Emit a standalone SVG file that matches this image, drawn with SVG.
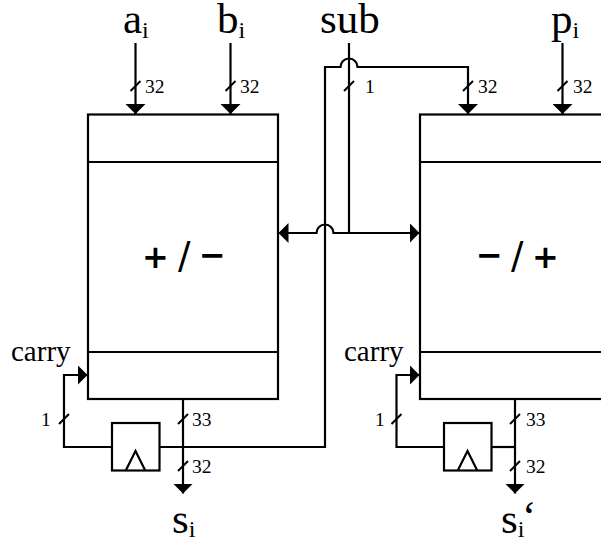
<svg xmlns="http://www.w3.org/2000/svg" width="601" height="542" viewBox="0 0 601 542">
<defs>
<marker id="ah" viewBox="0 0 10 20" markerUnits="userSpaceOnUse" markerWidth="10" markerHeight="20" refX="10" refY="10" orient="auto"><path d="M0 0L10 10L0 20Z" fill="#000"/></marker>
<path id="tick" d="M-5 5L5-5" fill="none" stroke="#000" stroke-width="2"/>
</defs>
<style>
.l{fill:none;stroke:#000;stroke-width:2.2}
.b{fill:#fff;stroke:#000;stroke-width:2.2}
.a{marker-end:url(#ah)}
text{font-family:"Liberation Serif","DejaVu Serif",serif;fill:#000}
.big{font-size:43px}.sub{font-size:24px}.n{font-size:19.500px}.c{font-size:29px}
.op{font-family:"DejaVu Sans",sans-serif;font-size:32px;font-weight:bold}
.sl{font-weight:normal;font-size:37px}
</style>
<g id="adder-left">
<rect class="b" x="88" y="114.500" width="190" height="284.500"/>
<path class="l" d="M88 162H278M88 352H278"/>
<text class="op" y="268"><tspan x="142">+</tspan><tspan class="sl" x="178">/</tspan><tspan x="199" y="265.500">−</tspan></text>
</g>
<g id="adder-right">
<rect class="b" x="420" y="114.500" width="200" height="284.500"/>
<path class="l" d="M420 162H601M420 352H601"/>
<text class="op" y="268"><tspan x="476" y="265.500">−</tspan><tspan class="sl" x="511" y="268">/</tspan><tspan x="532">+</tspan></text>
</g>
<g id="register-left">
<rect class="b" x="112" y="423" width="47.500" height="47.500"/>
<path class="l" d="M126 470L135.500 451L145 470"/>
</g>
<g id="register-right">
<rect class="b" x="444" y="423" width="47.500" height="47.500"/>
<path class="l" d="M458 470L467.500 451L477 470"/>
</g>
<g id="connectors">
<path class="l a" d="M135.500 43V114"/>
<path class="l a" d="M230.500 43V114"/>
<path class="l a" d="M562.500 43V114"/>
<path class="l" d="M349 43V233"/>
<path class="l a" d="M159.500 447H325V67H340.500A8.500 8.500 0 0 1 357.500 67H468V114"/>
<path class="l a" d="M349 233H333.500A8.500 8.500 0 0 0 316.500 233H278.500"/>
<path class="l a" d="M349 233H419.500"/>
<path class="l a" d="M112 447H64V375H87.500"/>
<path class="l a" d="M444 447H396.500V375H419.500"/>
<path class="l a" d="M183 399V493.500"/>
<path class="l a" d="M515 399V493.500"/>
<path class="l" d="M491.500 447H515"/>
<use href="#tick" x="135.500" y="86"/>
<use href="#tick" x="230.500" y="86"/>
<use href="#tick" x="349" y="86"/>
<use href="#tick" x="468" y="86"/>
<use href="#tick" x="562.500" y="86"/>
<use href="#tick" x="64" y="419"/>
<use href="#tick" x="183" y="419"/>
<use href="#tick" x="183" y="466"/>
<use href="#tick" x="396.500" y="419"/>
<use href="#tick" x="515" y="419"/>
<use href="#tick" x="515" y="466"/>
</g>
<g id="labels">
<text class="big" x="123" y="33">a<tspan class="sub" dy="5">i</tspan></text>
<text class="big" x="217" y="33">b<tspan class="sub" dy="5">i</tspan></text>
<text class="big" x="320" y="33">sub</text>
<text class="big" x="551" y="33">p<tspan class="sub" dy="5">i</tspan></text>
<text class="n" x="145" y="93">32</text>
<text class="n" x="240" y="93">32</text>
<text class="n" x="365" y="93">1</text>
<text class="n" x="478" y="93">32</text>
<text class="n" x="573" y="93">32</text>
<text class="n" x="41" y="426">1</text>
<text class="n" x="192" y="426">33</text>
<text class="n" x="192" y="473">32</text>
<text class="n" x="375" y="426">1</text>
<text class="n" x="526" y="426">33</text>
<text class="n" x="526" y="473">32</text>
<text class="c" x="11" y="361">carry</text>
<text class="c" x="344" y="361">carry</text>
<text class="big" x="172" y="533">s<tspan class="sub" dy="4">i</tspan></text>
<text class="big" x="501" y="533">s<tspan class="sub" dy="4">i</tspan><tspan class="big" x="522" dy="-7">‘</tspan></text>
</g>
</svg>
